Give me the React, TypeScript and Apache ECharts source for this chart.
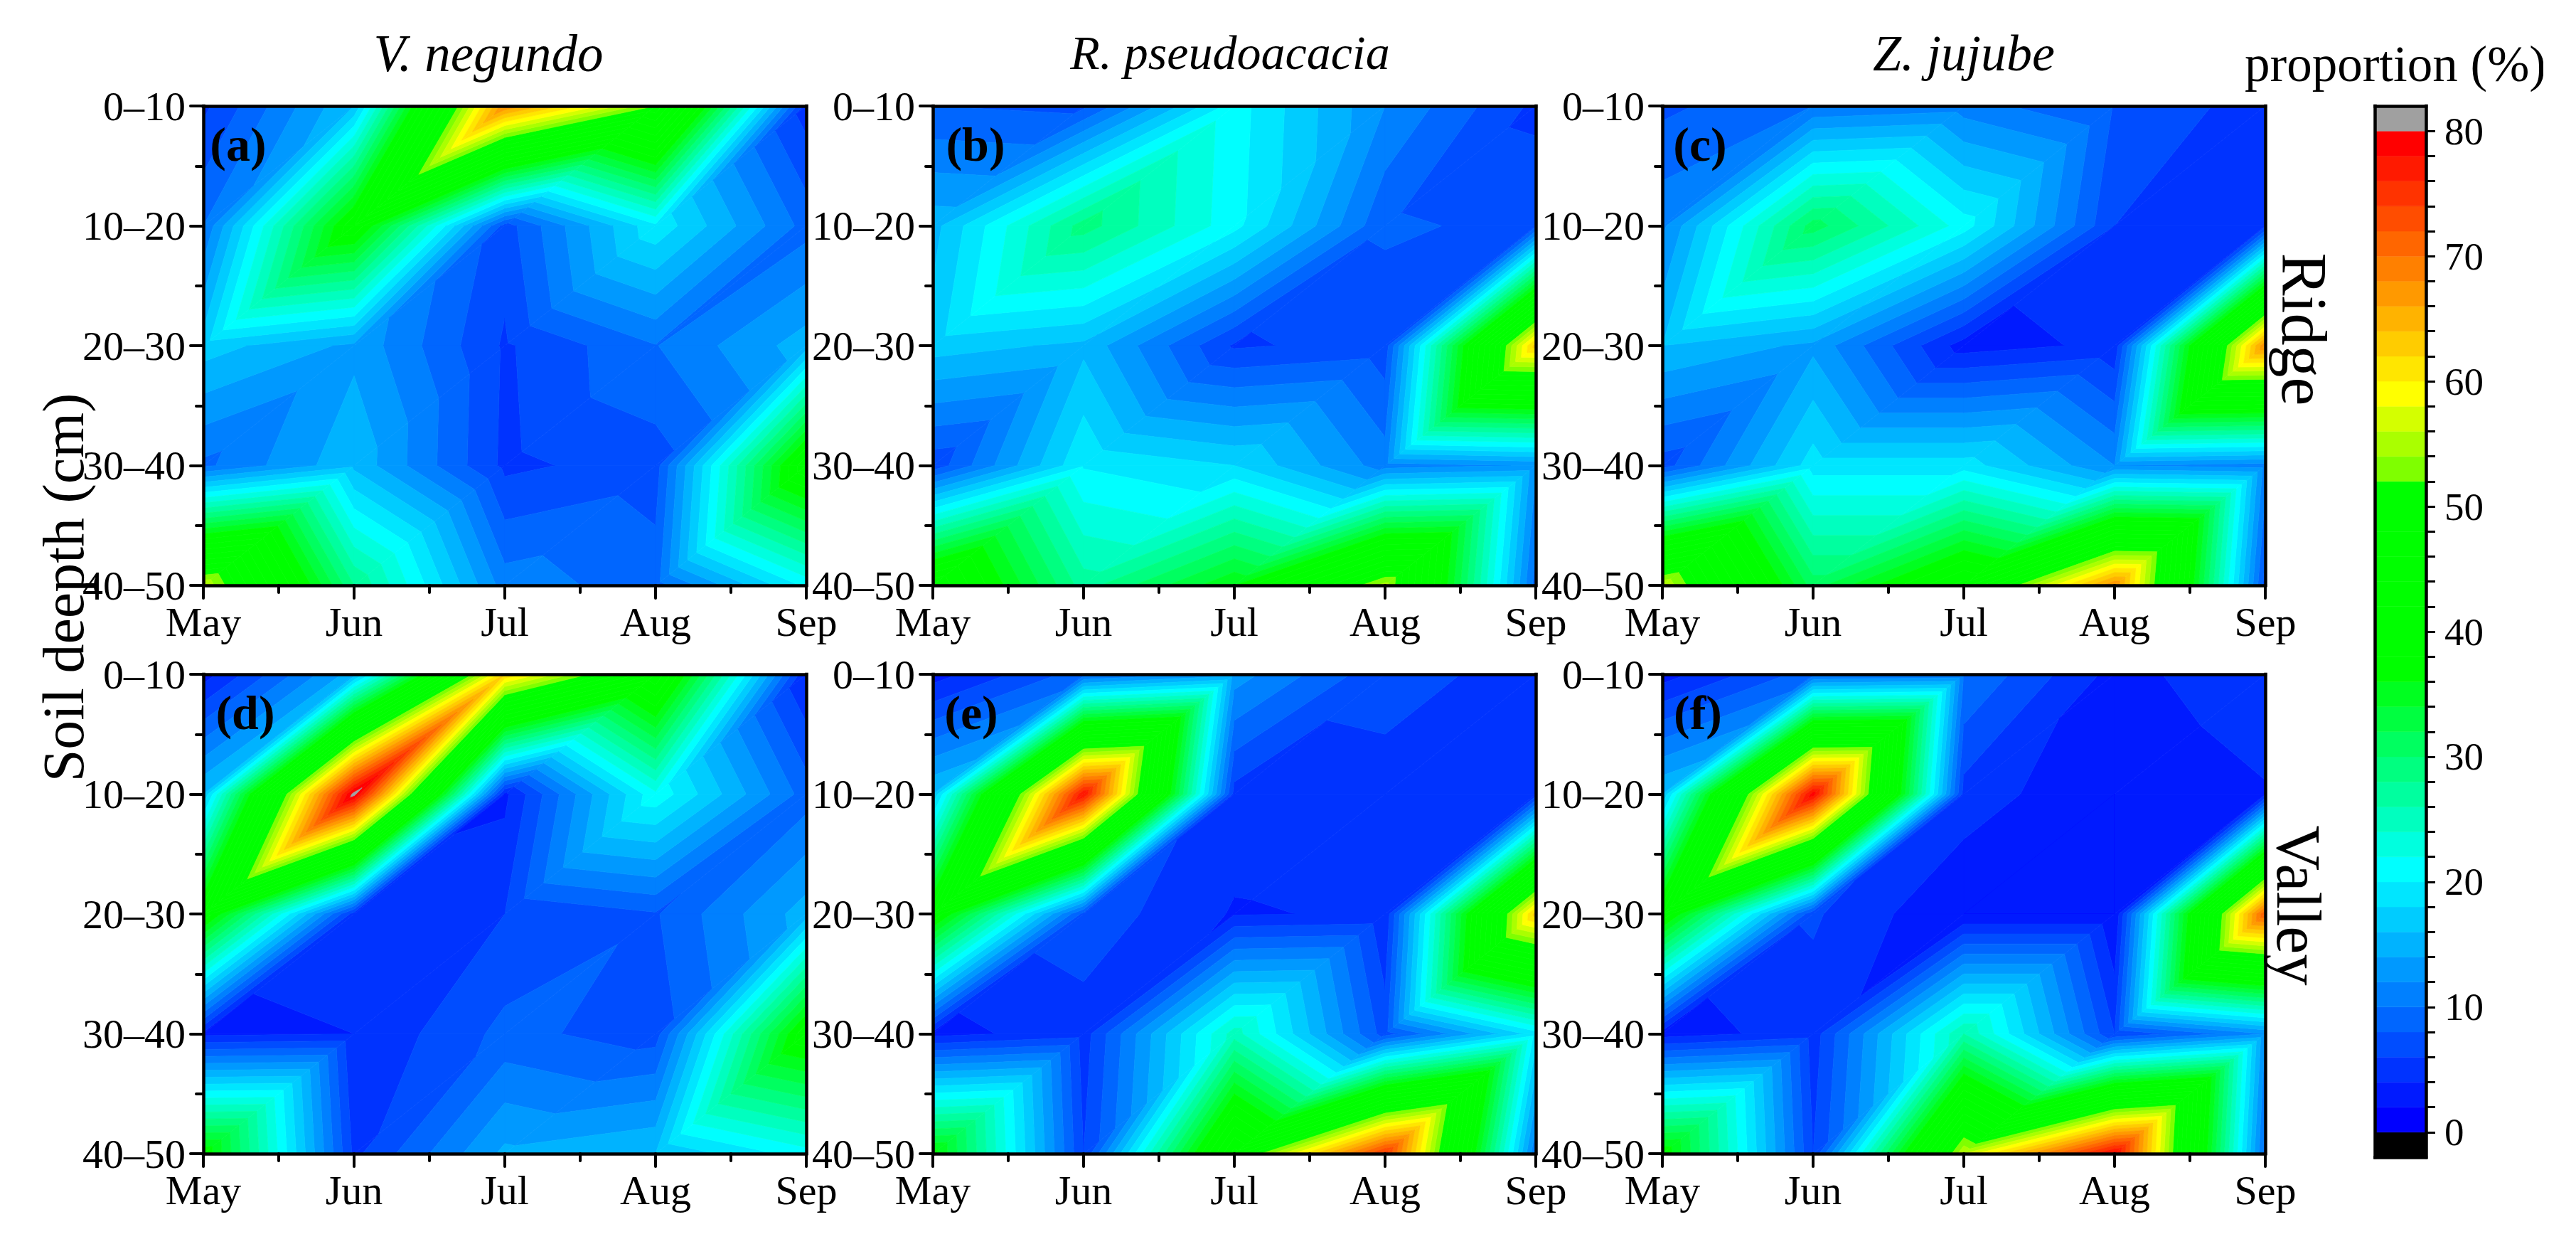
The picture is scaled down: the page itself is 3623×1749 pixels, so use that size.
import React, { useEffect, useRef } from "react";
import * as echarts from "echarts";

const months = ["May", "Jun", "Jul", "Aug", "Sep"];
const depths = ["0–10", "10–20", "20–30", "30–40", "40–50"];
const colorTicks = [0, 2, 4, 6, 8, 10, 12, 14, 16, 18, 20, 22, 24, 26, 28, 30, 32, 34, 36, 38, 40, 42, 44, 46, 48, 50, 52, 54, 56, 58, 60, 62, 64, 66, 68, 70, 72, 74, 76, 78, 80];
const colorLabels = [0, 10, 20, 30, 40, 50, 60, 70, 80];
const bandColors = [
  "#0000ff", "#001aff", "#0033ff", "#004dff", "#0066ff", "#0080ff", "#0099ff", "#00b3ff", "#00ccff", "#00e6ff",
  "#00ffff", "#00ffdf", "#00ffbf", "#00ff9f", "#00ff80", "#00ff60", "#00ff40", "#00ff20",
  "#00ff00", "#00ff00", "#00ff00", "#00ff00", "#00ff00", "#00ff00", "#00ff00", "#00ff00",
  "#7fff00", "#aaff00", "#d4ff00", "#ffff00", "#ffe600", "#ffcc00", "#ffb300", "#ff9900", "#ff8000", "#ff6600", "#ff4d00", "#ff3300", "#ff1a00", "#ff0000",
];
const underColor = "#000000";
const overColor = "#a0a0a0";

// rows = soil depth classes, columns = months
const panelA = [
  [5.5, 16, 68, 52, 5],
  [10, 40, 7, 19.5, 9.2],
  [17, 13.5, 5.7, 9.9, 15],
  [9.5, 15.5, 5.5, 7, 42],
  [56, 28, 11, 9, 20.5],
];
const panelB = [
  [8, 7.5, 21, 12, 5.5],
  [15.2, 29, 20.7, 8.3, 7.5],
  [17, 15.5, 5.7, 6.8, 63],
  [6.6, 19.8, 18, 11, 12.2],
  [44, 27, 36, 55, 9],
];
const panelC = [
  [7.5, 10, 11, 7.8, 5],
  [11.5, 31, 21, 6, 5.5],
  [16, 13.5, 3, 4.5, 68],
  [7, 19, 19, 12, 11],
  [56, 31, 43, 68, 7],
];
const panelD = [
  [3, 15, 62, 44, 4],
  [16, 81, 3.5, 21.5, 9],
  [40, 5, 6, 7.8, 15],
  [3.5, 4, 8.6, 7, 40],
  [38, 5.5, 14.5, 16, 21],
];
const panelE = [
  [3, 9, 13, 6.5, 5.5],
  [16, 78, 5.2, 5.5, 5],
  [40, 7.3, 3.8, 4.3, 63],
  [3.3, 5, 25, 7, 19],
  [37, 6, 47, 75, 10],
];
const panelF = [
  [3, 9, 10, 3.3, 5.5],
  [16, 79, 5.2, 2, 3.8],
  [40, 6.3, 2, 2, 72],
  [3, 4.9, 26, 6, 12],
  [38, 6, 56, 79, 9],
];

const panels = [
  { values: panelA, tag: "(a)", left: 286, top: 149, tagDx: 49 },
  { values: panelB, tag: "(b)", left: 1312, top: 149, tagDx: 60 },
  { values: panelC, tag: "(c)", left: 2338, top: 149, tagDx: 53 },
  { values: panelD, tag: "(d)", left: 286, top: 948, tagDx: 59 },
  { values: panelE, tag: "(e)", left: 1312, top: 948, tagDx: 54 },
  { values: panelF, tag: "(f)", left: 2338, top: 948, tagDx: 50 },
];

const FONT = '"Liberation Serif", "Times New Roman", serif';
type P = [number, number, number];

function clip(poly: P[], level: number, keepAbove: boolean): P[] {
  const out: P[] = [];
  for (let i = 0; i < poly.length; i++) {
    const a = poly[i];
    const b = poly[(i + 1) % poly.length];
    const aIn = keepAbove ? a[2] >= level : a[2] <= level;
    const bIn = keepAbove ? b[2] >= level : b[2] <= level;
    if (aIn) out.push(a);
    if (aIn !== bIn) {
      const t = (level - a[2]) / (b[2] - a[2]);
      out.push([a[0] + t * (b[0] - a[0]), a[1] + t * (b[1] - a[1]), level]);
    }
  }
  return out;
}

function bandList() {
  const list: { lo: number; hi: number; color: string }[] = [{ lo: -Infinity, hi: 0, color: underColor }];
  bandColors.forEach((color, i) => list.push({ lo: colorTicks[i], hi: colorTicks[i + 1], color }));
  list.push({ lo: 80, hi: Infinity, color: overColor });
  return list;
}

function triangles() {
  const out: number[][] = [];
  for (let r = 0; r < 4; r++) {
    for (let c = 0; c < 4; c++) {
      out.push([c, r, 0]);
      out.push([c, r, 1]);
    }
  }
  return out;
}

function contourRenderer(values: number[][]) {
  const bands = bandList();
  return (_params: any, api: any) => {
    const c = api.value(0);
    const r = api.value(1);
    const kind = api.value(2);
    const nodes: [number, number][] =
      kind === 0
        ? [[c, r], [c + 1, r], [c, r + 1]]
        : [[c + 1, r], [c + 1, r + 1], [c, r + 1]];
    const tri: P[] = nodes.map(([x, y]) => [x, y, values[y][x]]);
    const children: any[] = [];
    bands.forEach((band) => {
      let poly = tri;
      if (isFinite(band.lo)) poly = clip(poly, band.lo, true);
      if (poly.length && isFinite(band.hi)) poly = clip(poly, band.hi, false);
      if (poly.length < 3) return;
      children.push({
        type: "polygon",
        shape: { points: poly.map((p) => api.coord([p[0], p[1]])) },
        style: { fill: band.color, stroke: band.color, lineWidth: 0.7 },
      });
    });
    return { type: "group", children };
  };
}

function colorbarRenderer() {
  const bands = bandList();
  return (_params: any, api: any) => {
    const band = bands[api.value(0)];
    const lo = isFinite(band.lo) ? band.lo : -2;
    const hi = isFinite(band.hi) ? band.hi : 82;
    const a = api.coord([0, hi]);
    const b = api.coord([1, lo]);
    return {
      type: "rect",
      shape: { x: a[0], y: a[1], width: b[0] - a[0], height: b[1] - a[1] },
      style: { fill: band.color, stroke: band.color, lineWidth: 0.5 },
    };
  };
}

function buildOption() {
  const grid: any[] = [];
  const xAxis: any[] = [];
  const yAxis: any[] = [];
  const series: any[] = [];
  const line = { show: true, onZero: false, lineStyle: { color: "#000", width: 4.5, cap: "square" } };
  const tickStyle = { color: "#000", width: 4, cap: "round" };

  panels.forEach((p, i) => {
    grid.push({ left: p.left, top: p.top, width: 848, height: 674 });
    const xBase = { gridIndex: i, type: "value", min: 0, max: 4, interval: 1, splitLine: { show: false }, axisLine: line, z: 10 };
    const yBase = { gridIndex: i, type: "value", min: 0, max: 4, interval: 1, inverse: true, splitLine: { show: false }, axisLine: line, z: 10 };
    xAxis.push({
      ...xBase,
      position: "bottom",
      axisTick: { show: true, length: 18, lineStyle: tickStyle },
      minorTick: { show: true, splitNumber: 2, length: 10, lineStyle: tickStyle },
      axisLabel: { show: true, margin: 22, color: "#000", fontFamily: FONT, fontSize: 58, formatter: (v: number) => months[v] },
    });
    xAxis.push({ ...xBase, position: "top", axisTick: { show: false }, axisLabel: { show: false } });
    yAxis.push({
      ...yBase,
      position: "left",
      axisTick: { show: true, length: 18, lineStyle: tickStyle },
      minorTick: { show: true, splitNumber: 2, length: 10, lineStyle: tickStyle },
      axisLabel: { show: true, margin: 25, color: "#000", fontFamily: FONT, fontSize: 58, formatter: (v: number) => depths[v] },
    });
    yAxis.push({ ...yBase, position: "right", axisTick: { show: false }, axisLabel: { show: false } });
    series.push({
      type: "custom",
      xAxisIndex: i * 2,
      yAxisIndex: i * 2,
      data: triangles(),
      encode: { x: 0, y: 1 },
      renderItem: contourRenderer(p.values),
      silent: true,
      clip: false,
    });
  });

  // colour scale
  const g = panels.length;
  grid.push({ left: 3340.5, top: 149, width: 71.5, height: 1478 });
  xAxis.push({ gridIndex: g, type: "value", min: 0, max: 1, show: true, position: "bottom", splitLine: { show: false }, axisTick: { show: false }, axisLabel: { show: false }, axisLine: line, z: 10 });
  xAxis.push({ gridIndex: g, type: "value", min: 0, max: 1, show: true, position: "top", splitLine: { show: false }, axisTick: { show: false }, axisLabel: { show: false }, axisLine: line, z: 10 });
  yAxis.push({
    gridIndex: g, type: "value", min: -2, max: 82, interval: 2, position: "right", splitLine: { show: false }, axisLine: line, z: 10,
    axisTick: { show: true, length: 13, customValues: colorTicks, lineStyle: { color: "#000", width: 3 } },
    axisLabel: { show: true, margin: 26, customValues: colorLabels, color: "#000", fontFamily: FONT, fontSize: 55 },
  });
  yAxis.push({ gridIndex: g, type: "value", min: -2, max: 82, position: "left", splitLine: { show: false }, axisTick: { show: false }, axisLabel: { show: false }, axisLine: line, z: 10 });
  series.push({
    type: "custom",
    xAxisIndex: g * 2,
    yAxisIndex: g * 2,
    data: bandList().map((_, i) => [i]),
    encode: { y: 0 },
    renderItem: colorbarRenderer(),
    silent: true,
    clip: false,
  });

  const text = (t: string, x: number, y: number, size: number, extra: any = {}, rotation = 0) => ({
    type: "text",
    x,
    y,
    rotation,
    z: 20,
    silent: true,
    style: { text: t, fontFamily: FONT, fontSize: size, fill: "#000", textAlign: "center", textVerticalAlign: "middle", ...(extra || {}) },
  });

  const graphic: any[] = [
    text("V. negundo", 687, 75, 73, { fontStyle: "italic" }),
    text("R. pseudoacacia", 1730, 74, 68, { fontStyle: "italic" }),
    text("Z. jujube", 2762, 75, 72, { fontStyle: "italic" }),
    text("proportion (%)", 3369, 90, 71),
    { type: "rect", z: 21, silent: true, shape: { x: 3577, y: 50, width: 46, height: 80 }, style: { fill: "#fff" } },
    text("Soil deepth (cm)", 89, 826, 82, {}, Math.PI / 2),
    text("Ridge", 3240, 463, 90, {}, -Math.PI / 2),
    text("Valley", 3232, 1273, 88, {}, -Math.PI / 2),
    ...panels.map((p) => text(p.tag, p.left + p.tagDx, p.top + 54, 68, { fontWeight: "bold" })),
  ];

  return { animation: false, backgroundColor: "#fff", grid, xAxis, yAxis, series, graphic };
}

export default function App() {
  const ref = useRef<HTMLDivElement>(null);
  useEffect(() => {
    document.body.style.margin = "0";
    document.body.style.overflow = "hidden";
    const chart = echarts.init(ref.current as HTMLDivElement, undefined, { renderer: "svg" });
    chart.setOption(buildOption() as any);
    return () => chart.dispose();
  }, []);
  return <div ref={ref} style={{ width: 3623, height: 1749 }} />;
}
